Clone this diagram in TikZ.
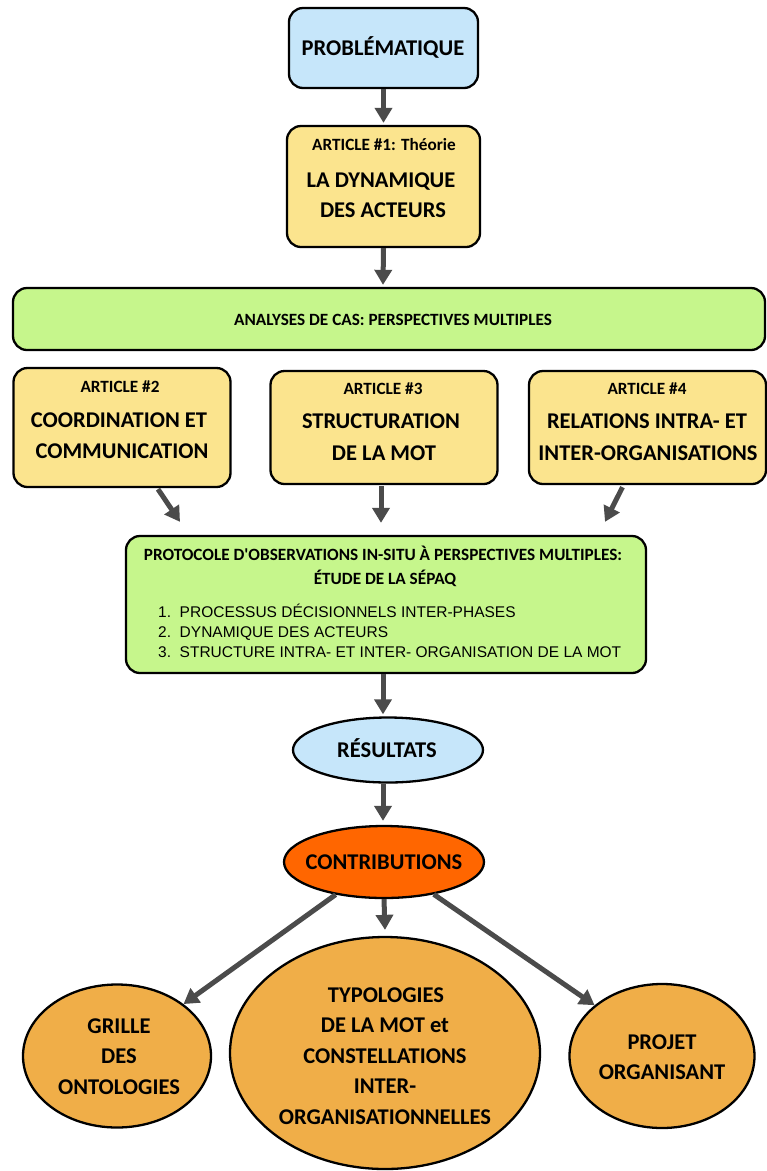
\documentclass[tikz,border=0pt]{standalone}
\usepackage{fontspec}
\setmainfont{Carlito}
\newfontfamily\listfont{Liberation Sans}
\usetikzlibrary{arrows.meta,shapes.geometric,calc}

\definecolor{skyfill}{HTML}{C6E6FA}
\definecolor{paperfill}{HTML}{FBE48E}
\definecolor{limefill}{HTML}{C6F68C}
\definecolor{flame}{HTML}{FF6600}
\definecolor{amber}{HTML}{F0AE48}
\definecolor{arrowgray}{HTML}{4B4B4B}

% straight typewriter apostrophe
\newcommand\plainquote{{\addfontfeature{Ligatures=TeXOff}'}}

\tikzset{
  box/.style={draw=black, line width=2.3pt, rounded corners=14pt, inner sep=0pt},
  oval/.style={draw=black, line width=2.3pt, ellipse, inner sep=0pt},
  flow/.style={draw=arrowgray, line width=5pt, -{Triangle[length=15pt,width=17pt]}, shorten >=0pt},
  big/.style={font=\bfseries\fontsize{22.5}{27}\selectfont, anchor=base, inner sep=0pt},
  small/.style={font=\bfseries\fontsize{17.2}{20}\selectfont, anchor=base, inner sep=0pt},
  item/.style={font=\listfont\fontsize{15.5}{18}\selectfont, anchor=base west, inner sep=0pt},
}

\begin{document}
\begin{tikzpicture}[x=1pt,y=-1pt]
\fill[white] (0,0) rectangle (767,1171);
\useasboundingbox (0,0) rectangle (767,1171);

% ---- boxes ----
\node[box, fill=skyfill, minimum width=189pt, minimum height=80pt] (prob) at (383.5,48) {};
\node[box, fill=paperfill, minimum width=193pt, minimum height=121pt] (art1) at (383.5,186.5) {};
\node[box, fill=limefill, minimum width=752pt, minimum height=62pt] (cas) at (389,319) {};
\node[box, fill=paperfill, minimum width=217pt, minimum height=119pt] (art2) at (122,427.5) {};
\node[box, fill=paperfill, minimum width=227pt, minimum height=113pt] (art3) at (384,427.5) {};
\node[box, fill=paperfill, minimum width=237pt, minimum height=113pt] (art4) at (647.5,427.5) {};
\node[box, fill=limefill, minimum width=520pt, minimum height=137pt] (proto) at (386,604.5) {};
\node[oval, fill=skyfill, minimum width=190pt, minimum height=65pt] (res) at (388,750) {};
\node[oval, fill=flame, minimum width=200pt, minimum height=72pt] (contrib) at (384,862) {};
\node[oval, fill=amber, minimum width=188pt, minimum height=143pt] (grille) at (117,1056) {};
\node[oval, fill=amber, minimum width=310pt, minimum height=232pt] (typo) at (385,1053) {};
\node[oval, fill=amber, minimum width=185pt, minimum height=144pt] (projet) at (662,1056) {};

% ---- texts ----
\node[big] (tprob) at (383,55) {PROBLÉMATIQUE};

\node[small] (ta1) at (384,150) {ARTICLE \#1: Théorie};
\node[big] (ta1b) at (381,187) {LA DYNAMIQUE};
\node[big] (ta1c) at (383,217) {DES ACTEURS};

\node[small] (tcas) at (393,325) {ANALYSES DE CAS: PERSPECTIVES MULTIPLES};

\node[small] (ta2) at (120,392) {ARTICLE \#2};
\node[big] (ta2b) at (119,427) {COORDINATION ET};
\node[big] (ta2c) at (122,458) {COMMUNICATION};

\node[small] (ta3) at (383,394) {ARTICLE \#3};
\node[big] (ta3b) at (381,428) {STRUCTURATION};
\node[big] (ta3c) at (384,460) {DE LA MOT};

\node[small] (ta4) at (647,394) {ARTICLE \#4};
\node[big] (ta4b) at (647,428) {RELATIONS INTRA- ET};
\node[big] (ta4c) at (648,460) {INTER-ORGANISATIONS};

\node[small] (tp1) at (383,560) {PROTOCOLE D\plainquote OBSERVATIONS IN-SITU À PERSPECTIVES MULTIPLES:};
\node[small] (tp2) at (385,584) {ÉTUDE DE LA SÉPAQ};
\node[item] (tl1) at (158,617) {1.\ \ PROCESSUS DÉCISIONNELS INTER-PHASES};
\node[item] (tl2) at (158,637) {2.\ \ DYNAMIQUE DES ACTEURS};
\node[item] (tl3) at (158,657) {3.\ \ STRUCTURE INTRA- ET INTER- ORGANISATION DE LA MOT};

\node[big] (tres) at (387,757) {RÉSULTATS};
\node[big] (tcon) at (384,869) {CONTRIBUTIONS};

\node[big] (tg1) at (119,1033) {GRILLE};
\node[big] (tg2) at (119,1063) {DES};
\node[big] (tg3) at (119,1094) {ONTOLOGIES};

\node[big] (tt1) at (386,1002) {TYPOLOGIES};
\node[big] (tt2) at (385,1032) {DE LA MOT et};
\node[big] (tt3) at (385,1063) {CONSTELLATIONS};
\node[big] (tt4) at (385,1093) {INTER-};
\node[big] (tt5) at (385,1124) {ORGANISATIONNELLES};

\node[big] (tj1) at (662,1049) {PROJET};
\node[big] (tj2) at (662,1079) {ORGANISANT};

% ---- connectors ----
\draw[flow] (prob.south) -- ($(art1.north)+(0,-2)$);
\draw[flow] (art1.south) -- ($(cas.north)+(-6,-2)$);
\draw[flow] ($(art2.south)+(36,1)$) -- ($(proto.north)+(-206,-13)$);
\draw[flow] ($(art3.south)+(-3,1)$) -- ($(proto.north)+(-5,-12)$);
\draw[flow] ($(art4.south)+(-25,2)$) -- ($(proto.north)+(219,-13)$);
\draw[flow] ($(proto.south)+(-3,0)$) -- ($(res.north)+(-5,-2)$);
\draw[flow] ($(res.south)+(-5,0)$) -- ($(contrib.north)+(-1,-4)$);
\draw[flow] (contrib.214) -- (grille.38);
\draw[flow] (contrib.270) -- ($(typo.north)+(0,-6)$);
\draw[flow] (contrib.327) -- (projet.143);
\end{tikzpicture}
\end{document}
